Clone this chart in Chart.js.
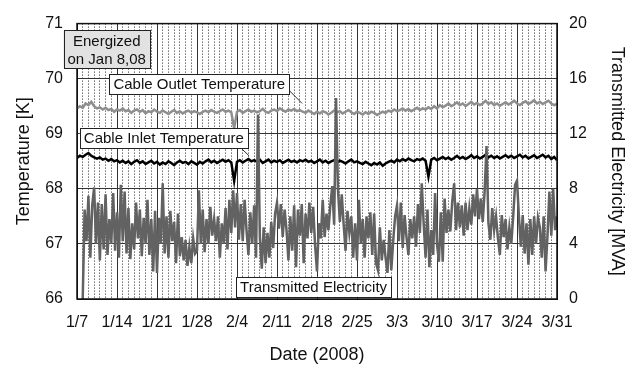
<!DOCTYPE html>
<html>
<head>
<meta charset="utf-8">
<script src="https://cdn.jsdelivr.net/npm/chart.js@4/dist/chart.umd.min.js"></script>
<style>
    html, body { margin: 0; padding: 0; background: #fff; }
    #chart { display: block; }
</style>
</head>
<body>
<canvas id="chart" width="632" height="369"></canvas>
<script>
// x axis is days since 1/7/2008, weekly tick labels
const weekLabels = ['1/7', '1/14', '1/21', '1/28', '2/4', '2/11', '2/18', '2/25', '3/3', '3/10', '3/17', '3/24', '3/31'];
const lastDay = 84;

// temperatures, two readings per day starting 1/7 [K]
const tempPerDay = 2;
const outletTemp = [
    69.46, 69.50, 69.47, 69.55, 69.52, 69.58, 69.50, 69.46, 69.48, 69.44,
    69.47, 69.43, 69.45, 69.40, 69.44, 69.42, 69.46, 69.41, 69.43, 69.38,
    69.42, 69.44, 69.40, 69.43, 69.37, 69.41, 69.39, 69.44, 69.40, 69.38,
    69.42, 69.39, 69.36, 69.40, 69.43, 69.38, 69.41, 69.37, 69.40, 69.42,
    69.38, 69.41, 69.39, 69.36, 69.40, 69.42, 69.39, 69.43, 69.40, 69.38,
    69.41, 69.44, 69.40, 69.42, 69.39, 69.10, 69.40, 69.43, 69.38, 69.41,
    69.44, 69.40, 69.42, 69.39, 69.41, 69.45, 69.40, 69.38, 69.42, 69.44,
    69.41, 69.46, 69.43, 69.40, 69.44, 69.42, 69.45, 69.41, 69.43, 69.40,
    69.38, 69.42, 69.39, 69.36, 69.40, 69.37, 69.41, 69.39, 69.35, 69.38,
    69.42, 69.39, 69.41, 69.37, 69.40, 69.43, 69.39, 69.36, 69.40, 69.38,
    69.35, 69.39, 69.36, 69.40, 69.38, 69.34, 69.37, 69.40, 69.38, 69.42,
    69.40, 69.44, 69.41, 69.43, 69.46, 69.42, 69.45, 69.41, 69.44, 69.47,
    69.43, 69.46, 69.44, 69.48, 69.45, 69.50, 69.46, 69.52, 69.48, 69.51,
    69.55, 69.50, 69.53, 69.57, 69.52, 69.55, 69.50, 69.54, 69.58, 69.53,
    69.56, 69.52, 69.55, 69.60, 69.54, 69.57, 69.52, 69.55, 69.51, 69.54,
    69.57, 69.53, 69.56, 69.60, 69.55, 69.52, 69.56, 69.59, 69.54, 69.57,
    69.61, 69.55, 69.58, 69.54, 69.57, 69.60, 69.55, 69.52, 69.54
];
const inletTemp = [
    68.56, 68.60, 68.58, 68.62, 68.65, 68.60, 68.57, 68.55, 68.57, 68.53,
    68.55, 68.51, 68.54, 68.50, 68.52, 68.48, 68.51, 68.47, 68.50, 68.45,
    68.49, 68.52, 68.47, 68.50, 68.45, 68.48, 68.51, 68.46, 68.49, 68.44,
    68.48, 68.45, 68.50, 68.47, 68.43, 68.48, 68.51, 68.47, 68.49, 68.45,
    68.50, 68.47, 68.44, 68.49, 68.46, 68.50, 68.53, 68.48, 68.51, 68.47,
    68.50, 68.53, 68.49, 68.52, 68.48, 68.14, 68.49, 68.52, 68.48, 68.51,
    68.54, 68.50, 68.52, 68.49, 68.53, 68.47, 68.50, 68.53, 68.48, 68.51,
    68.49, 68.52, 68.47, 68.50, 68.53, 68.49, 68.51, 68.48, 68.52, 68.50,
    68.53, 68.49, 68.51, 68.47, 68.50, 68.53, 68.48, 68.51, 68.47, 68.50,
    68.52, 68.48, 68.51, 68.49, 68.46, 68.50, 68.53, 68.48, 68.50, 68.47,
    68.45, 68.49, 68.46, 68.43, 68.47, 68.44, 68.48, 68.42, 68.46, 68.49,
    68.51, 68.48, 68.53, 68.50, 68.54, 68.51, 68.55, 68.52, 68.50, 68.54,
    68.52, 68.55, 68.51, 68.22, 68.53, 68.56, 68.52, 68.55, 68.58, 68.54,
    68.57, 68.53, 68.56, 68.60, 68.55, 68.58, 68.54, 68.57, 68.61, 68.56,
    68.59, 68.55, 68.58, 68.62, 68.57, 68.60, 68.56, 68.59, 68.55, 68.58,
    68.61, 68.57, 68.60, 68.56, 68.59, 68.62, 68.57, 68.60, 68.55, 68.58,
    68.61, 68.56, 68.59, 68.62, 68.57, 68.60, 68.54, 68.58, 68.52
];

// transmitted power, three readings per day from 1/8 (energized) [MVA]
const elecStartDay = 1;
const elecPerDay = 3;
const transmitted = [
    0.0, 6.5, 4.2,   7.5, 3.0, 6.8,   8.1, 4.0, 7.0,   2.8, 6.9, 3.6,   7.6, 3.2, 5.8,   4.0, 7.7, 3.5,
    6.3, 3.0, 8.3,   4.2, 7.8, 3.3,   6.6, 2.9, 5.5,   3.6, 7.0, 4.4,   6.5, 3.1, 5.9,   4.0, 7.2, 3.2,   5.8, 2.0, 6.4,
    1.9, 5.9, 4.0,   8.4, 3.3, 6.0,   3.0, 6.4, 4.2,   5.6, 2.6, 6.2,   3.1, 4.5, 2.8,   4.3, 2.4, 3.8,   2.6, 4.4, 3.3,
    3.5, 7.9, 4.0,   6.5, 3.4, 5.8,   4.0, 6.7, 4.6,   5.8, 4.2, 6.0,   3.0, 5.5, 4.0,   6.6, 3.6, 7.2,   4.8, 7.9, 5.2,
    7.7, 4.3, 6.9,   4.2, 7.2, 5.0,   3.2, 6.3, 4.0,   6.8, 3.0, 13.4,  4.5, 2.2, 5.2,   2.6, 4.8, 3.0,   5.6, 3.7, 6.2,
    7.0, 5.1, 6.9,   4.5, 6.5, 5.0,   2.8, 6.0, 3.5,   6.8, 2.3, 6.5,   4.6, 6.9, 2.6,   6.2, 4.4, 7.0,   4.8, 6.7, 3.9,
    2.0, 5.5, 4.4,   7.2, 4.5, 6.2,   5.0, 6.8, 8.2,   5.4, 14.6, 8.0,  5.6, 7.6, 5.4,   3.5, 6.4, 4.8,   6.0, 3.0, 5.5,
    2.8, 7.2, 4.0,   5.8, 3.0, 6.0,   4.4, 6.3, 3.2,   6.2, 2.6, 2.1,   5.2, 2.8, 4.3,   3.0, 1.9, 5.0,   2.1, 4.2, 6.0,
    6.8, 4.2, 7.0,   3.7, 6.1, 4.5,   3.2, 5.8, 4.4,   6.0, 3.8, 6.9,   4.8, 8.4, 5.5,   3.0, 6.5, 2.3,   5.0, 3.2, 7.7,
    4.0, 2.7, 6.3,   2.7, 7.3, 4.8,   6.5, 4.9, 7.1,   8.4, 5.0, 7.0,   5.2, 6.8, 4.6,   7.0, 5.0, 6.6,   5.4, 7.6, 6.0,
    8.0, 5.8, 7.3,   5.6, 7.8, 11.1,  5.5, 4.3, 6.6,   5.0, 6.0, 4.4,   3.2, 6.1, 4.5,   5.8, 3.6, 5.2,   4.0, 6.0, 8.3,
    8.6, 6.0, 3.8,   6.1, 3.3, 5.5,   2.5, 5.8, 3.2,   6.0, 4.0, 5.9,   5.2, 3.0, 6.0,   2.0, 4.6, 7.8,   4.6, 8.0, 5.0,
    6.0
];

const toPoints = (values, start, perDay) => values.map((v, i) => ({ x: start + i / perDay, y: v }));

// boxed labels, placed in data units (day, temperature)
const noteFont = '15px "Liberation Sans", Arial, sans-serif';
const notes = [
    { lines: ['Energized', 'on Jan 8,08'], day: 5.2, temp: 70.53, fill: '#e2e2e2' },
    { lines: ['Cable Outlet Temperature'], day: 21.4, temp: 69.9, fill: '#fff', leader: [37.0, 69.8, 39.4, 69.55] },
    { lines: ['Cable Inlet Temperature'], day: 15.2, temp: 68.92, fill: '#fff', leader: [28.5, 68.76, 30.1, 68.6] },
    { lines: ['Transmitted Electricity'], day: 41.4, temp: 66.22, fill: '#fff' }
];

const framePlugin = {
    id: 'frame',
    beforeDraw(chart) {
        const { ctx, width, height } = chart;
        ctx.save();
        ctx.fillStyle = '#fff';
        ctx.fillRect(0, 0, width, height);
        ctx.restore();
    },
    afterDraw(chart) {
        const { ctx, chartArea: a, scales } = chart;
        ctx.save();
        ctx.strokeStyle = '#111';
        ctx.lineWidth = 1.5;
        ctx.strokeRect(a.left, a.top, a.right - a.left, a.bottom - a.top);

        ctx.font = noteFont;
        ctx.textAlign = 'center';
        ctx.textBaseline = 'middle';
        notes.forEach(n => {
            const cx = scales.x.getPixelForValue(n.day);
            const cy = scales.y.getPixelForValue(n.temp);
            const lineH = 18;
            const w = Math.max(...n.lines.map(l => ctx.measureText(l).width)) + 8;
            const h = n.lines.length * lineH + 2;
            if (n.leader) {
                ctx.strokeStyle = '#333';
                ctx.lineWidth = 1;
                ctx.beginPath();
                ctx.moveTo(scales.x.getPixelForValue(n.leader[0]), scales.y.getPixelForValue(n.leader[1]));
                ctx.lineTo(scales.x.getPixelForValue(n.leader[2]), scales.y.getPixelForValue(n.leader[3]));
                ctx.stroke();
            }
            ctx.fillStyle = n.fill;
            ctx.fillRect(cx - w / 2, cy - h / 2, w, h);
            ctx.strokeStyle = '#222';
            ctx.lineWidth = 1;
            ctx.strokeRect(Math.round(cx - w / 2) + 0.5, Math.round(cy - h / 2) + 0.5, Math.round(w), Math.round(h));
            ctx.fillStyle = '#111';
            n.lines.forEach((l, i) => {
                ctx.fillText(l, cx, cy - h / 2 + 1 + lineH * (i + 0.5) + 1);
            });
        });
        ctx.restore();
    }
};

const tickFont = { family: '"Liberation Sans", Arial, sans-serif', size: 16 };
const titleFont = { family: '"Liberation Sans", Arial, sans-serif', size: 18 };

new Chart(document.getElementById('chart'), {
    type: 'line',
    data: {
        datasets: [
            {
                label: 'Transmitted Electricity',
                data: toPoints(transmitted, elecStartDay, elecPerDay),
                yAxisID: 'y2',
                borderColor: '#626262',
                borderWidth: 2.5,
                order: 1
            },
            {
                label: 'Cable Inlet Temperature',
                data: toPoints(inletTemp, 0, tempPerDay),
                yAxisID: 'y',
                borderColor: '#000',
                borderWidth: 2.5,
                order: 2
            },
            {
                label: 'Cable Outlet Temperature',
                data: toPoints(outletTemp, 0, tempPerDay),
                yAxisID: 'y',
                borderColor: '#8e8e8e',
                borderWidth: 2.5,
                order: 3
            }
        ]
    },
    options: {
        responsive: false,
        animation: false,
        devicePixelRatio: 1,
        layout: { padding: { top: 16, left: 0, right: 0, bottom: 0 } },
        elements: { point: { radius: 0 }, line: { tension: 0 } },
        plugins: { legend: { display: false }, tooltip: { enabled: false } },
        scales: {
            x: {
                type: 'linear',
                min: 0,
                max: lastDay,
                afterFit: s => { s.height = 70; },
                ticks: {
                    stepSize: 1,
                    autoSkip: false,
                    maxRotation: 0,
                    padding: 14,
                    color: '#111',
                    font: tickFont,
                    callback: v => (v % 7 === 0 ? weekLabels[v / 7] : '')
                },
                grid: {
                    drawTicks: false,
                    color: c => (c.tick && c.tick.value % 7 === 0 ? '#333' : '#222'),
                    lineWidth: 1
                },
                border: {
                    color: '#111',
                    dash: c => (c.tick && c.tick.value % 7 !== 0 ? [1, 2] : [])
                },
                title: {
                    display: true,
                    text: 'Date (2008)',
                    color: '#111',
                    font: titleFont,
                    padding: { top: 0, bottom: 3 }
                }
            },
            y: {
                position: 'left',
                min: 66,
                max: 71,
                afterFit: s => { s.width = 77; },
                ticks: { stepSize: 1, padding: 14, color: '#111', font: tickFont },
                grid: { drawTicks: false, color: '#333', lineWidth: 1 },
                border: { color: '#111' },
                title: {
                    display: true,
                    text: 'Temperature [K]',
                    color: '#111',
                    font: titleFont,
                    padding: { top: 13, bottom: 0 }
                }
            },
            y2: {
                position: 'right',
                min: 0,
                max: 20,
                afterFit: s => { s.width = 75; },
                ticks: { stepSize: 4, padding: 12, color: '#111', font: tickFont },
                grid: { drawOnChartArea: false, drawTicks: false },
                border: { color: '#111' },
                title: {
                    display: true,
                    text: 'Transmitted Electricity [MVA]',
                    color: '#111',
                    font: titleFont,
                    padding: { top: 4, bottom: 0 }
                }
            }
        }
    },
    plugins: [framePlugin]
});
</script>
</body>
</html>
